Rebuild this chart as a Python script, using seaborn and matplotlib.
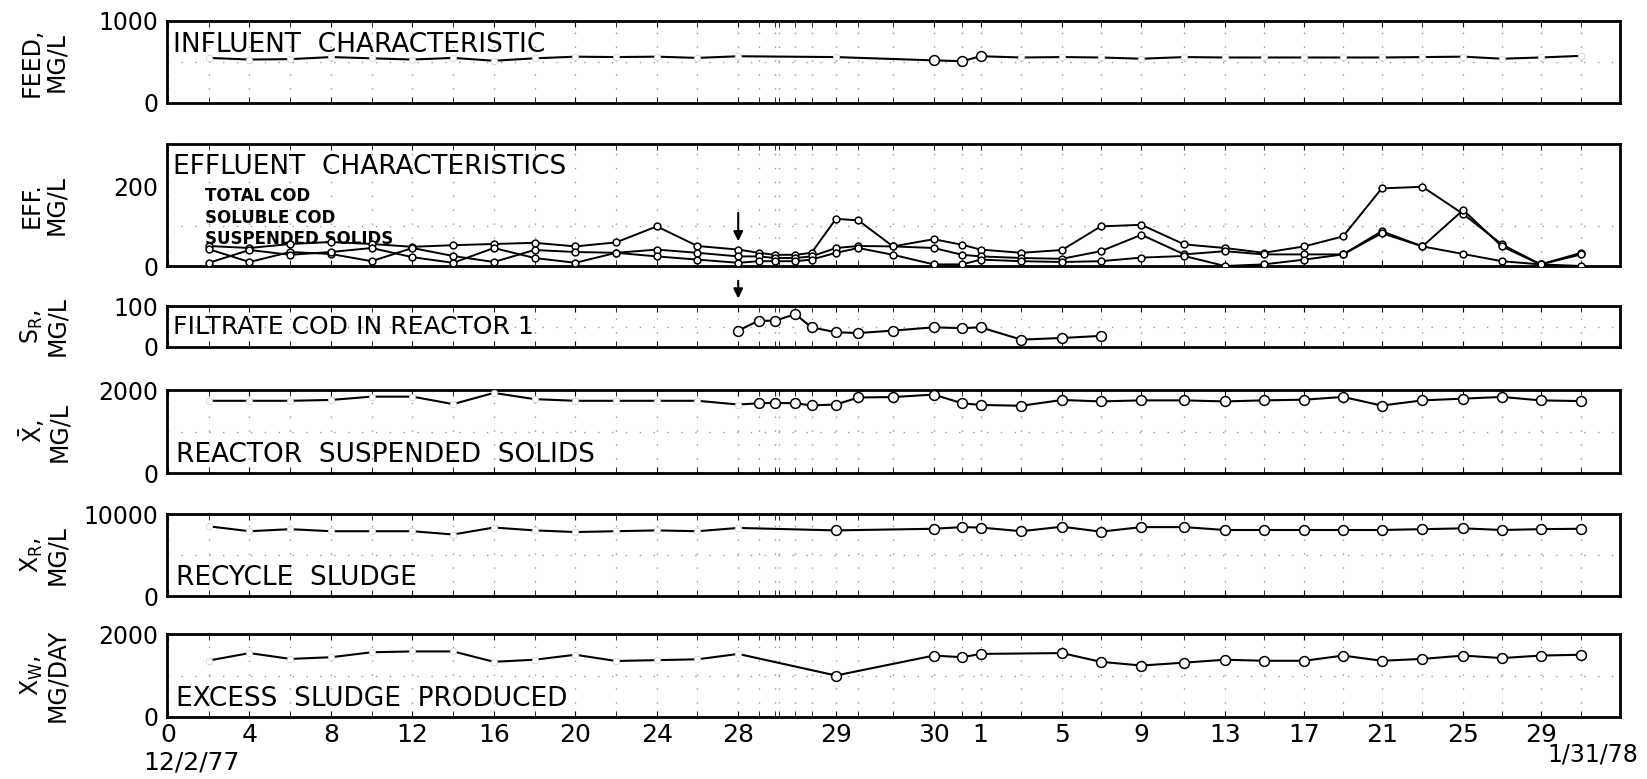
import pandas as pd
import matplotlib.pyplot as plt
import seaborn as sns

sns.set_style("white")
plt.rcParams['font.family'] = ['DejaVu Sans']
plt.rcParams['mathtext.default'] = 'regular'
plt.rcParams['text.color'] = 'black'
plt.rcParams['xtick.color'] = 'black'
plt.rcParams['ytick.color'] = 'black'

# x positions of the sampling days on the (stretched) time axis
dec_x = [2, 4, 6, 8, 10, 12, 14, 16, 18, 20, 22, 24, 26, 28]
mid_x = [29.0, 29.8, 30.8, 31.6, 32.8, 33.9, 35.6, 37.6, 39.0]
jan_x = [39.9, 41.9, 43.9, 45.8, 47.8, 49.9, 51.9, 53.8, 55.8, 57.7, 59.6, 61.6, 63.6, 65.5, 67.4, 69.4]

tick_pos = [0, 4, 8, 12, 16, 20, 24, 28, 32.8, 37.6, 39.9, 43.9, 47.8, 51.9, 55.8, 59.6, 63.6, 67.4]
tick_lab = ['0', '4', '8', '12', '16', '20', '24', '28', '29', '30', '1', '5', '9', '13', '17', '21', '25', '29']

# influent
feed_x = dec_x + [32.8, 37.6, 39.0] + jan_x
feed = [550, 530, 535, 560, 545, 530, 550, 515, 545, 565, 560, 565, 550, 570,
        560, 520, 510,
        570, 555, 560, 555, 540, 560, 555, 555, 555, 555, 555, 560, 565, 540, 555, 575]

# effluent
eff_x = dec_x + mid_x + jan_x
total_cod = [50, 45, 55, 60, 55, 48, 52, 55, 58, 49, 59, 99, 50, 41,
             33, 28, 28, 33, 118, 114, 49, 67, 53,
             41, 33, 40, 99, 103, 54, 45, 33, 49, 74, 194, 198, 130, 54, 4, 33]
soluble_cod = [42, 10, 35, 30, 12, 45, 25, 10, 40, 35, 33, 41, 33, 24,
               24, 20, 20, 24, 45, 50, 49, 45, 28,
               24, 20, 18, 37, 78, 29, 37, 29, 29, 29, 87, 49, 140, 49, 4, 29]
susp_solids = [8, 40, 28, 35, 45, 22, 8, 45, 20, 8, 33, 24, 16, 8,
               12, 12, 12, 16, 33, 45, 28, 4, 4,
               16, 12, 10, 12, 21, 25, 0, 4, 16, 29, 82, 49, 30, 12, 4, 0]

# filtrate COD in reactor 1
filt_x = [28, 29.0, 29.8, 30.8, 31.6, 32.8, 33.9, 35.6, 37.6, 39.0, 39.9, 41.9, 43.9, 45.8]
filtrate = [40, 64, 64, 80, 48, 36, 34, 40, 48, 46, 48, 18, 22, 27]

# reactor suspended solids
reac_x = dec_x + mid_x + jan_x
reactor = [1740, 1740, 1740, 1760, 1840, 1840, 1660, 1930, 1780, 1740, 1740, 1740, 1740, 1650,
           1680, 1690, 1680, 1630, 1650, 1820, 1830, 1890, 1680,
           1640, 1620, 1760, 1725, 1750, 1750, 1725, 1750, 1767, 1833, 1625, 1750, 1792, 1833, 1750, 1733]

# recycle sludge
rec_x = dec_x + [32.8, 37.6, 39.0] + jan_x
recycle = [8500, 7900, 8150, 7900, 7900, 7900, 7500, 8350, 8000, 7800, 7900, 8000, 7900, 8300,
           8000, 8200, 8400,
           8350, 7900, 8450, 7850, 8400, 8400, 8050, 8050, 8050, 8050, 8050, 8150, 8250, 8050, 8150, 8200]

# excess sludge produced
exc_x = dec_x + [32.8, 37.6, 39.0] + [39.9] + jan_x[2:]
excess = [1360, 1540, 1400, 1440, 1560, 1580, 1580, 1330, 1380, 1500, 1350, 1370, 1390, 1520,
          1000, 1480, 1440,
          1520, 1540, 1330, 1240, 1310, 1380, 1355, 1355, 1480, 1355, 1400, 1480, 1420, 1480, 1500]

W, H = 1647, 779
fig = plt.figure(figsize=(W / 100, H / 100), dpi=100)
fig.patch.set_facecolor('white')

panels = [(21, 103), (144, 266), (306, 347), (390, 473), (514, 596), (634, 717)]
ylims = [1000, 305, 100, 2000, 10000, 2000]
ytick_top = [1000, 200, 100, 2000, 10000, 2000]
ygrids = [[500], [100, 200], [50], [1000], [5000], [1000]]
ylabels = ['FEED,\nMG/L', 'EFF.\nMG/L', 'S$_R$,\nMG/L', r'$\bar{X}$,' + '\nMG/L',
           'X$_R$,\nMG/L', 'X$_W$,\nMG/DAY']
x_left, x_right = 167, 1620
grid_x = sorted(set(dec_x + mid_x + jan_x + [30, 26]))

axes = []
for i, (top, bot) in enumerate(panels):
    ax = fig.add_axes([x_left / W, 1 - bot / H, (x_right - x_left) / W, (bot - top) / H])
    ax.set_xlim(-0.05, 71.3)
    ax.set_ylim(0, ylims[i])
    ax.set_yticks([0, ytick_top[i]])
    ax.set_yticklabels(['0', str(ytick_top[i])], fontsize=17)
    ax.set_yticks(ygrids[i], minor=True)
    ax.set_xticks(tick_pos)
    ax.set_xticks(grid_x, minor=True)
    ax.grid(which='minor', linestyle=(0, (1, 9)), color='0.6', linewidth=1)
    ax.grid(which='major', axis='x', linestyle=(0, (1, 9)), color='0.6', linewidth=1)
    ax.tick_params(axis='y', which='both', length=0, pad=6)
    ax.tick_params(axis='x', which='both', direction='in', length=4, top=True, bottom=True,
                   labelsize=18, pad=4)
    if i < 5:
        ax.tick_params(axis='x', labelbottom=False)
    else:
        ax.set_xticklabels(tick_lab)
    for s in ax.spines.values():
        s.set_linewidth(2)
        s.set_color('black')
    fig.text(44 / W, 1 - (top + bot) / 2 / H, ylabels[i], rotation=90, ha='center', va='center',
             multialignment='center', fontsize=17, linespacing=1.0)
    axes.append(ax)


def draw(ax, x, y, circle_from=28.5, circle_to=99, ms=50, lw=1.5):
    df = pd.DataFrame({'x': x, 'y': y})
    sns.lineplot(data=df, x='x', y='y', ax=ax, color='black', linewidth=lw,
                 sort=False, estimator=None)
    is_dot = (df['x'] >= circle_from) & (df['x'] <= circle_to)
    gap = df[~is_dot]
    dot = df[is_dot]
    if len(gap):
        # hand-drawn points: small breaks in the line
        sns.scatterplot(data=gap, x='x', y='y', ax=ax, s=22, color='white',
                        edgecolor='0.8', linewidth=0.5, zorder=3)
    if len(dot):
        sns.scatterplot(data=dot, x='x', y='y', ax=ax, s=ms, color='white',
                        edgecolor='black', linewidth=1.1, zorder=4)
    ax.set_xlabel('')
    ax.set_ylabel('')


draw(axes[0], feed_x, feed, circle_from=37, circle_to=40)
for ser in [total_cod, soluble_cod, susp_solids]:
    draw(axes[1], eff_x, ser, circle_from=0, ms=24, lw=1.4)
draw(axes[2], filt_x, filtrate, circle_from=28)
draw(axes[3], reac_x, reactor)
draw(axes[4], rec_x, recycle)
draw(axes[5], exc_x, excess)

# panel captions
axes[0].text(0.004, 0.86, 'INFLUENT  CHARACTERISTIC', transform=axes[0].transAxes,
             fontsize=19, va='top', ha='left')
axes[1].text(0.004, 0.92, 'EFFLUENT  CHARACTERISTICS', transform=axes[1].transAxes,
             fontsize=19, va='top', ha='left')
for k, t in enumerate(['TOTAL COD', 'SOLUBLE COD', 'SUSPENDED SOLIDS']):
    axes[1].text(0.026, 0.57 - k * 0.175, t, transform=axes[1].transAxes,
                 fontsize=12, fontweight='bold', va='center', ha='left')
axes[2].text(0.004, 0.5, 'FILTRATE COD IN REACTOR 1', transform=axes[2].transAxes,
             fontsize=18, va='center', ha='left')
axes[3].text(0.006, 0.06, 'REACTOR  SUSPENDED  SOLIDS', transform=axes[3].transAxes,
             fontsize=19, va='bottom', ha='left')
axes[4].text(0.006, 0.06, 'RECYCLE  SLUDGE', transform=axes[4].transAxes,
             fontsize=19, va='bottom', ha='left')
axes[5].text(0.006, 0.06, 'EXCESS  SLUDGE  PRODUCED', transform=axes[5].transAxes,
             fontsize=19, va='bottom', ha='left')

# arrows at day 28
axes[1].annotate('', xy=(28, 55), xytext=(28, 140),
                 arrowprops=dict(arrowstyle='-|>', color='black', lw=1.5, mutation_scale=14))
axes[1].annotate('', xy=(28, -88), xytext=(28, -30), annotation_clip=False,
                 arrowprops=dict(arrowstyle='-|>', color='black', lw=1.5, mutation_scale=14))

fig.text(191 / W, 1 - 762 / H, '12/2/77', fontsize=18, ha='center', va='center')
fig.text(1638 / W, 1 - 742 / H, '1/31/78', fontsize=17, ha='right', va='top')

fig.savefig('out.png', dpi=100, facecolor='white')
